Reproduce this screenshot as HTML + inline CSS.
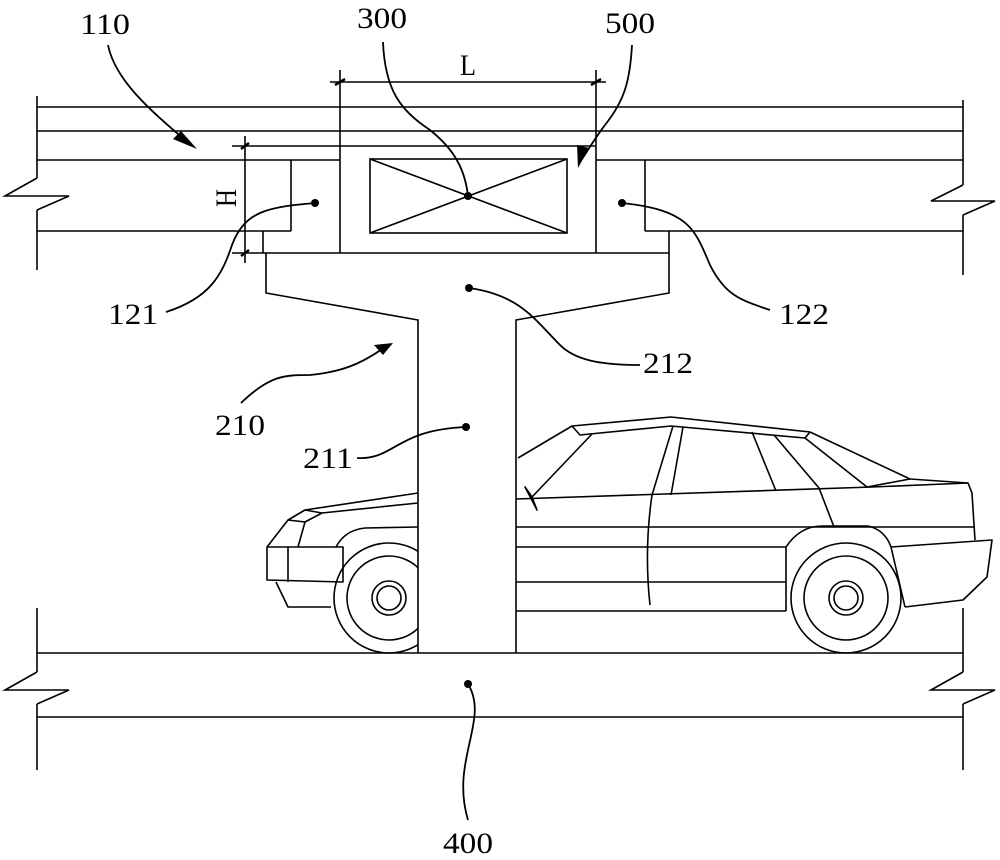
<!DOCTYPE html>
<html><head><meta charset="utf-8"><style>
html,body{margin:0;padding:0;background:#fff;}
svg{display:block}
text{font-family:"Liberation Serif",serif;font-size:30px;fill:#000}
</style></head><body>
<svg width="1000" height="860" viewBox="0 0 1000 860" xmlns="http://www.w3.org/2000/svg">
<g stroke="#000" stroke-width="1.6" fill="none">
<!-- top slab -->
<line x1="37" y1="96" x2="37" y2="178"/><polyline points="37,178 5,196 69,196 37,210"/><line x1="37" y1="210" x2="37" y2="270"/>
<line x1="963" y1="100" x2="963" y2="185"/><polyline points="963,185 931,201 995,201 963,215"/><line x1="963" y1="215" x2="963" y2="275"/>
<line x1="37" y1="107" x2="963" y2="107"/>
<line x1="37" y1="131" x2="963" y2="131"/>
<line x1="37" y1="160" x2="340" y2="160"/><line x1="596" y1="160" x2="963" y2="160"/>
<line x1="37" y1="231" x2="291" y2="231"/><line x1="291" y1="160" x2="291" y2="231"/>
<line x1="263" y1="231" x2="263" y2="253"/>
<line x1="645" y1="160" x2="645" y2="231"/><line x1="645" y1="231" x2="963" y2="231"/>
<line x1="669" y1="231" x2="669" y2="253"/>
<!-- beam 500 -->
<line x1="340" y1="70" x2="340" y2="253"/><line x1="596" y1="70" x2="596" y2="253"/>
<line x1="232" y1="253" x2="669" y2="253"/>
<rect x="370" y="159" width="197" height="74"/>
<line x1="370" y1="159" x2="567" y2="233"/><line x1="370" y1="233" x2="567" y2="159"/>
<!-- dims -->
<line x1="330" y1="82" x2="606" y2="82"/>
<line x1="232" y1="146" x2="596" y2="146"/>
<line x1="245" y1="136" x2="245" y2="263"/>
<!-- cap + column -->
<polyline points="266,253 266,293 418,320 418,653"/>
<polyline points="669,253 669,293 516,320 516,653"/>
<!-- bottom slab -->
<line x1="37" y1="608" x2="37" y2="672"/><polyline points="37,672 5,690 69,690 37,704"/><line x1="37" y1="704" x2="37" y2="770"/>
<line x1="963" y1="608" x2="963" y2="672"/><polyline points="963,672 931,690 995,690 963,704"/><line x1="963" y1="704" x2="963" y2="770"/>
<line x1="37" y1="653" x2="963" y2="653"/>
<line x1="37" y1="717" x2="963" y2="717"/>
</g>
<g stroke="#000" stroke-width="2.5">
<line x1="335" y1="85" x2="345" y2="79"/><line x1="591" y1="85" x2="601" y2="79"/>
<line x1="241" y1="149" x2="249" y2="143"/><line x1="241" y1="256" x2="249" y2="250"/>
</g>
<!-- car -->
<g stroke="#000" stroke-width="1.6" fill="none" stroke-linejoin="round">
<polyline points="518,458 572,426 671,417 810,432 910,479 968,483 972,493 975,540"/>
<polyline points="572,426 580,435 671,426 805,438 810,432"/>
<line x1="592" y1="434" x2="532" y2="497"/>
<polygon points="525,487 537,510 532,497"/>
<polyline points="516,499 872,487 968,483"/>
<line x1="673" y1="426" x2="652" y2="495"/><line x1="683" y1="427" x2="671" y2="495"/>
<line x1="752" y1="432" x2="776" y2="491"/>
<polyline points="774,435 819,488 834,527"/>
<polyline points="805,438 867,487 910,479"/>
<path d="M652,495 Q644,550 650,605"/>
<line x1="516" y1="527" x2="975" y2="527"/>
<line x1="516" y1="547" x2="786" y2="547"/>
<line x1="516" y1="582" x2="786" y2="582"/>
<line x1="516" y1="611" x2="786" y2="611"/>
<path d="M786,611 L786,547 Q800,526 822,526 L868,526 Q885,530 891,547 L905,607"/>
<polyline points="891,547 992,540 987,577 963,600 905,607"/>
<circle cx="846" cy="598" r="55"/><circle cx="846" cy="598" r="42"/><circle cx="846" cy="598" r="17"/><circle cx="846" cy="598" r="12"/>
<!-- front -->
<polyline points="418,493 305,510 288,520 267,547 267,580 343,582 343,547 267,547"/>
<line x1="288" y1="547" x2="288" y2="582"/>
<polyline points="276,582 288,607 331,607"/>
<polyline points="305,510 322,513 418,503"/>
<polyline points="288,520 305,522 298,547"/>
<line x1="322" y1="513" x2="305" y2="522"/>
<path d="M336,547 Q345,530 365,528 L418,527"/>
<clipPath id="fc"><rect x="0" y="400" width="418" height="260"/></clipPath>
<g clip-path="url(#fc)"><circle cx="389" cy="598" r="55"/><circle cx="389" cy="598" r="42"/><circle cx="389" cy="598" r="17"/><circle cx="389" cy="598" r="12"/></g>
</g>
<!-- leaders -->
<g stroke="#000" stroke-width="1.8" fill="none">
<path d="M108,45 C115,80 150,110 185,140"/>
<path d="M383,42 C385,90 400,110 430,130 C455,150 465,170 468,196"/>
<path d="M632,45 C630,80 625,100 605,125 C595,138 585,155 580,162"/>
<path d="M166,312 C210,298 222,275 232,245 C245,210 270,207 315,203"/>
<path d="M622,203 C690,210 695,230 710,265 C725,295 740,300 770,310"/>
<path d="M469,288 C520,295 535,320 560,345 C575,360 600,365 640,365"/>
<path d="M241,403 C270,375 285,375 310,375 C340,372 360,365 385,347"/>
<path d="M357,458 C395,460 395,430 466,427"/>
<path d="M468,684 C490,720 450,760 468,820"/>
</g>
<g fill="#000">
<circle cx="468" cy="196" r="4"/><circle cx="315" cy="203" r="4"/><circle cx="622" cy="203" r="4"/>
<circle cx="469" cy="288" r="4"/><circle cx="466" cy="427" r="4"/><circle cx="468" cy="684" r="4"/>
<polygon points="197,149 173,139 181,131"/>
<polygon points="578,168 577,145 589,148"/>
<polygon points="393,343 383,355 374,345"/>
</g>
<g>
<text x="80" y="34" textLength="50" lengthAdjust="spacingAndGlyphs">110</text>
<text x="357" y="28" textLength="50" lengthAdjust="spacingAndGlyphs">300</text>
<text x="605" y="33" textLength="50" lengthAdjust="spacingAndGlyphs">500</text>
<text x="460" y="75" textLength="16" lengthAdjust="spacingAndGlyphs">L</text>
<text transform="translate(236,198) rotate(-90)" text-anchor="middle" textLength="18" lengthAdjust="spacingAndGlyphs">H</text>
<text x="108" y="324" textLength="50" lengthAdjust="spacingAndGlyphs">121</text>
<text x="779" y="324" textLength="50" lengthAdjust="spacingAndGlyphs">122</text>
<text x="643" y="373" textLength="50" lengthAdjust="spacingAndGlyphs">212</text>
<text x="215" y="435" textLength="50" lengthAdjust="spacingAndGlyphs">210</text>
<text x="303" y="468" textLength="50" lengthAdjust="spacingAndGlyphs">211</text>
<text x="443" y="853" textLength="50" lengthAdjust="spacingAndGlyphs">400</text>
</g>
</svg>
</body></html>
